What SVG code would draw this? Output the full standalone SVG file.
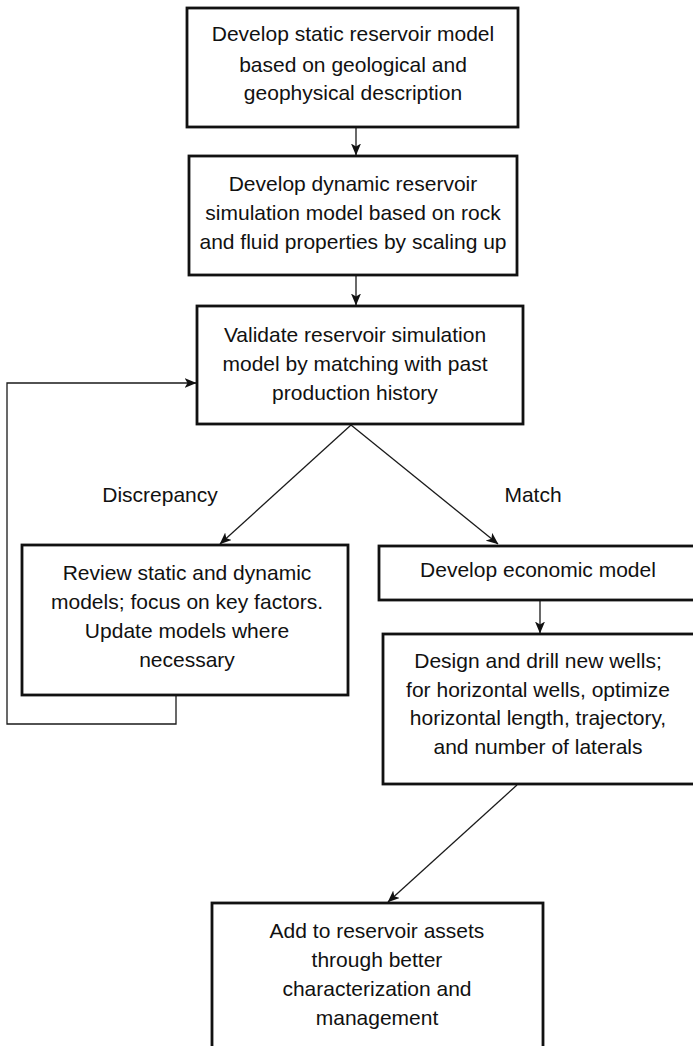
<svg xmlns="http://www.w3.org/2000/svg" width="693" height="1046" viewBox="0 0 693 1046">
  <style>
    .box { fill: #ffffff; stroke: #111111; stroke-width: 2.8; }
    .txt { font-family: "Liberation Sans", Arial, Helvetica, sans-serif; font-size: 21px; fill: #111111; text-anchor: middle; }
    .conn { fill: none; stroke: #1a1a1a; stroke-width: 1.3; }
  </style>
  <defs>
    <marker id="arrow" viewBox="0 0 12 10" refX="11.5" refY="5" markerWidth="12" markerHeight="10" markerUnits="userSpaceOnUse" orient="auto">
      <path d="M0,0 L12,5 L0,10 L3,5 Z" fill="#111111"/>
    </marker>
  </defs>
  <rect width="693" height="1046" fill="#ffffff"/>

  <g id="connectors">
    <line class="conn" x1="356" y1="127" x2="356" y2="155" marker-end="url(#arrow)"/>
    <line class="conn" x1="356" y1="275" x2="356" y2="305" marker-end="url(#arrow)"/>
    <line class="conn" x1="351" y1="425" x2="220" y2="544" marker-end="url(#arrow)"/>
    <line class="conn" x1="351" y1="425" x2="498" y2="544" marker-end="url(#arrow)"/>
    <line class="conn" x1="540" y1="600" x2="540" y2="633" marker-end="url(#arrow)"/>
    <line class="conn" x1="517" y1="785" x2="388" y2="902" marker-end="url(#arrow)"/>
    <polyline class="conn" points="176,695 176,724 7,724 7,383 196,383" marker-end="url(#arrow)"/>
    <text class="txt" x="160" y="502">Discrepancy</text>
    <text class="txt" x="533" y="502">Match</text>
  </g>

  <g id="static-model">
    <rect class="box" x="187" y="8" width="331" height="119"/>
    <text class="txt" x="353" y="41">Develop static reservoir model</text>
    <text class="txt" x="353" y="71.5">based on geological and</text>
    <text class="txt" x="353" y="100">geophysical description</text>
  </g>

  <g id="dynamic-model">
    <rect class="box" x="189" y="156" width="328" height="119"/>
    <text class="txt" x="353" y="191">Develop dynamic reservoir</text>
    <text class="txt" x="353" y="220">simulation model based on rock</text>
    <text class="txt" x="353" y="249">and fluid properties by scaling up</text>
  </g>

  <g id="validate">
    <rect class="box" x="197" y="306" width="326" height="118"/>
    <text class="txt" x="355" y="342">Validate reservoir simulation</text>
    <text class="txt" x="355" y="371">model by matching with past</text>
    <text class="txt" x="355" y="400">production history</text>
  </g>

  <g id="review">
    <rect class="box" x="22" y="545" width="326" height="150"/>
    <text class="txt" x="187" y="580">Review static and dynamic</text>
    <text class="txt" x="187" y="609">models; focus on key factors.</text>
    <text class="txt" x="187" y="638">Update models where</text>
    <text class="txt" x="187" y="667">necessary</text>
  </g>

  <g id="economic-model">
    <rect class="box" x="379" y="546" width="318" height="54"/>
    <text class="txt" x="538" y="577">Develop economic model</text>
  </g>

  <g id="design-wells">
    <rect class="box" x="383" y="634" width="314" height="150"/>
    <text class="txt" x="538" y="668">Design and drill new wells;</text>
    <text class="txt" x="538" y="696.5">for horizontal wells, optimize</text>
    <text class="txt" x="538" y="725">horizontal length, trajectory,</text>
    <text class="txt" x="538" y="753.5">and number of laterals</text>
  </g>

  <g id="reservoir-assets">
    <rect class="box" x="212" y="903" width="331" height="150"/>
    <text class="txt" x="377" y="938">Add to reservoir assets</text>
    <text class="txt" x="377" y="967">through better</text>
    <text class="txt" x="377" y="996">characterization and</text>
    <text class="txt" x="377" y="1025">management</text>
  </g>
</svg>
